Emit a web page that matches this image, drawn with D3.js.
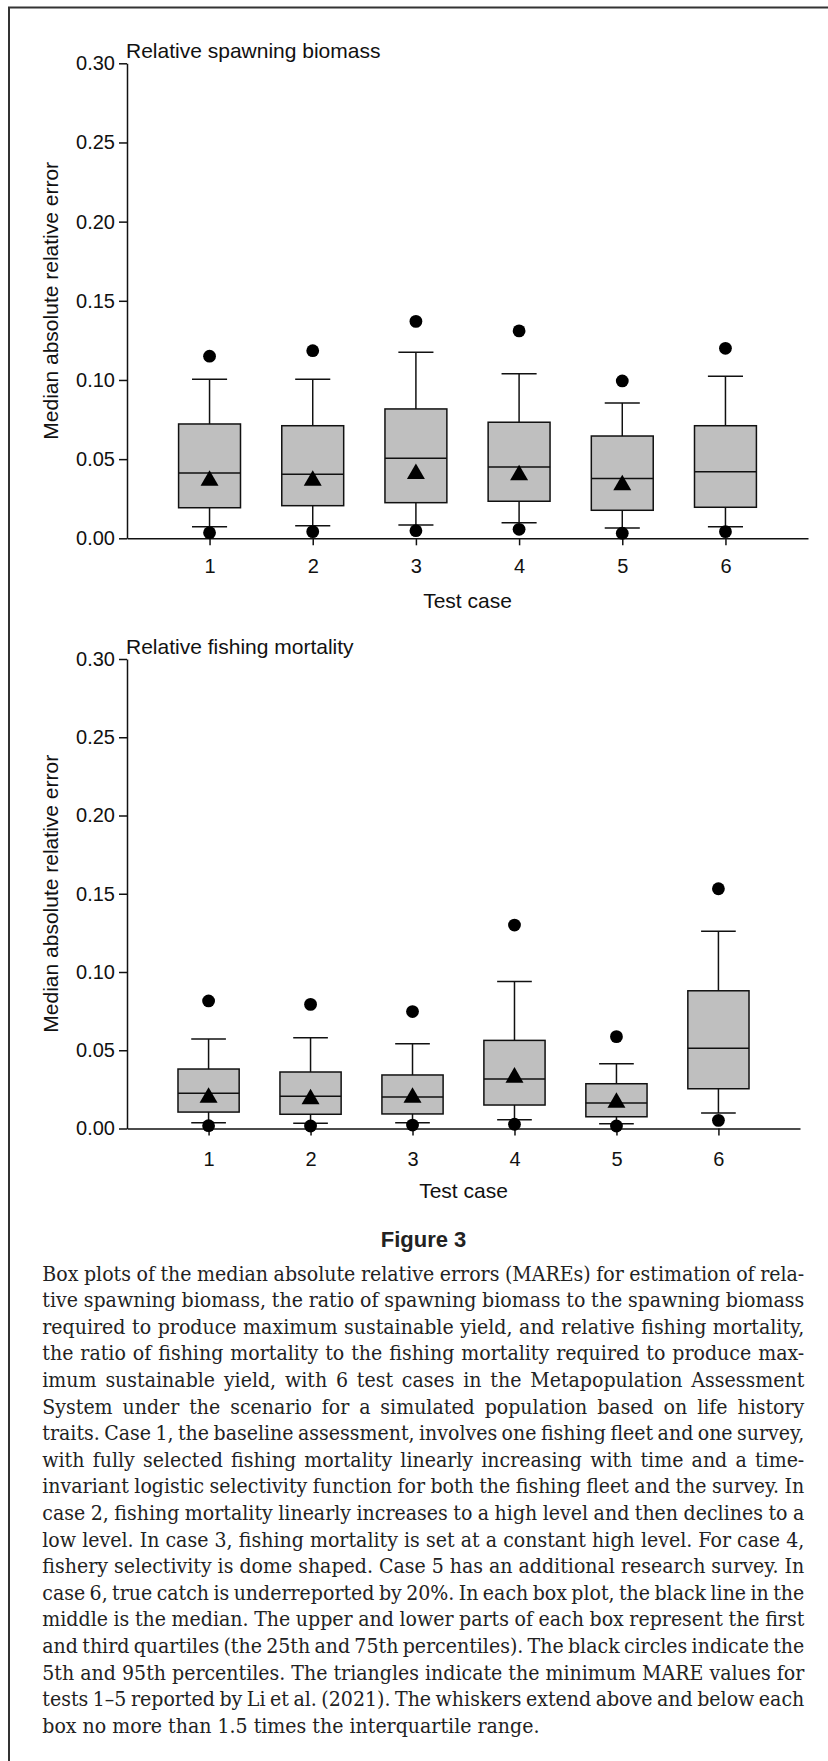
<!DOCTYPE html>
<html>
<head>
<meta charset="utf-8">
<script src="https://cdn.jsdelivr.net/npm/d3@7"></script>
<style>
  html, body { margin: 0; padding: 0; background: #fff; }
  svg { display: block; }
</style>
</head>
<body>
<svg id="fig" width="828" height="1761"></svg>
<script>
'use strict'

const cases = [1, 2, 3, 4, 5, 6]
const yTicks = [0, 0.05, 0.10, 0.15, 0.20, 0.25, 0.30]

// Relative spawning biomass
const sbP95 = [0.115, 0.1185, 0.137, 0.131, 0.0994, 0.120]
const sbHi = [0.1004, 0.1004, 0.1175, 0.104, 0.0855, 0.1023]
const sbQ3 = [0.0722, 0.0711, 0.0817, 0.0733, 0.0646, 0.0711]
const sbMed = [0.0412, 0.0404, 0.0505, 0.0450, 0.0377, 0.0421]
const sbQ1 = [0.0193, 0.0206, 0.0225, 0.0234, 0.0177, 0.0196]
const sbLo = [0.0073, 0.0080, 0.0084, 0.0099, 0.0065, 0.0073]
const sbP05 = [0.0035, 0.0042, 0.0048, 0.0057, 0.0032, 0.0042]
const sbTri = [0.0365, 0.0365, 0.0407, 0.0399, 0.0336, null]

// Relative fishing mortality
const fmP95 = [0.0815, 0.0793, 0.0747, 0.130, 0.0587, 0.1532]
const fmHi = [0.0572, 0.058, 0.0542, 0.094, 0.0414, 0.126]
const fmQ3 = [0.038, 0.0361, 0.0342, 0.0563, 0.0286, 0.088]
const fmMed = [0.0225, 0.0206, 0.0201, 0.0316, 0.0163, 0.0512]
const fmQ1 = [0.0105, 0.0091, 0.0093, 0.015, 0.0075, 0.0254]
const fmLo = [0.0037, 0.0033, 0.0037, 0.0056, 0.0031, 0.0099]
const fmP05 = [0.0018, 0.0016, 0.0022, 0.0027, 0.0016, 0.0052]
const fmTri = [0.0198, 0.0188, 0.0198, 0.0326, 0.0166, null]

const captionLines = [
  'Box plots of the median absolute relative errors (MAREs) for estimation of rela-',
  'tive spawning biomass, the ratio of spawning biomass to the spawning biomass',
  'required to produce maximum sustainable yield, and relative fishing mortality,',
  'the ratio of fishing mortality to the fishing mortality required to produce max-',
  'imum sustainable yield, with 6 test cases in the Metapopulation Assessment',
  'System under the scenario for a simulated population based on life history',
  'traits. Case 1, the baseline assessment, involves one fishing fleet and one survey,',
  'with fully selected fishing mortality linearly increasing with time and a time-',
  'invariant logistic selectivity function for both the fishing fleet and the survey. In',
  'case 2, fishing mortality linearly increases to a high level and then declines to a',
  'low level. In case 3, fishing mortality is set at a constant high level. For case 4,',
  'fishery selectivity is dome shaped. Case 5 has an additional research survey. In',
  'case 6, true catch is underreported by 20%. In each box plot, the black line in the',
  'middle is the median. The upper and lower parts of each box represent the first',
  'and third quartiles (the 25th and 75th percentiles). The black circles indicate the',
  '5th and 95th percentiles. The triangles indicate the minimum MARE values for',
  'tests 1\u20135 reported by Li et al. (2021). The whiskers extend above and below each',
  'box no more than 1.5 times the interquartile range.'
]

const sans = '"Liberation Sans", Arial, Helvetica, sans-serif'
const svg = d3.select('#fig')

// frame (left and top rules)
svg.append('path')
  .attr('d', 'M9,1761V7.5H828')
  .attr('fill', 'none')
  .attr('stroke', '#333')
  .attr('stroke-width', 2)

const panels = [
  {
    title: 'Relative spawning biomass',
    top: 63.3, bottom: 538.3, left: 127, right: 808, labelPad: 14,
    p95: sbP95, hi: sbHi, q3: sbQ3, med: sbMed, q1: sbQ1, lo: sbLo, p05: sbP05, tri: sbTri
  },
  {
    title: 'Relative fishing mortality',
    top: 659, bottom: 1128.5, left: 127, right: 800, labelPad: 16,
    p95: fmP95, hi: fmHi, q3: fmQ3, med: fmMed, q1: fmQ1, lo: fmLo, p05: fmP05, tri: fmTri
  }
]

const drawPanel = (p) => {
  const x = d3.scaleLinear().domain([0.2, 6.8]).range([p.left, p.right])
  const y = d3.scaleLinear().domain([0, 0.30]).range([p.bottom, p.top])
  const step = x(2) - x(1)
  const boxW = step * 0.6
  const capW = step * 0.34

  const g = svg.append('g')

  const yAxis = g.append('g')
    .attr('transform', `translate(${p.left},0)`)
    .call(d3.axisLeft(y).tickValues(yTicks).tickFormat(d3.format('.2f'))
      .tickSize(8).tickSizeOuter(0).tickPadding(4))
  const xAxis = g.append('g')
    .attr('transform', `translate(0,${p.bottom})`)
    .call(d3.axisBottom(x).tickValues(cases).tickFormat(d3.format('d'))
      .tickSize(7).tickSizeOuter(0).tickPadding(p.labelPad))

  ;[yAxis, xAxis].forEach((a) => {
    a.selectAll('path, line').attr('stroke', '#111').attr('stroke-width', 1.5)
    a.selectAll('text').attr('fill', '#111').style('font-family', sans).style('font-size', '20px')
  })

  g.append('text')
    .attr('x', p.left - 1)
    .attr('y', p.top - 5)
    .style('font-family', sans).style('font-size', '21px')
    .attr('fill', '#111')
    .text(p.title)

  g.append('text')
    .attr('transform', `translate(58,${(p.top + p.bottom) / 2}) rotate(-90)`)
    .attr('text-anchor', 'middle')
    .style('font-family', sans).style('font-size', '21px')
    .attr('fill', '#111')
    .text('Median absolute relative error')

  g.append('text')
    .attr('x', (p.left + p.right) / 2)
    .attr('y', p.bottom + 69.5)
    .attr('text-anchor', 'middle')
    .style('font-family', sans).style('font-size', '21px')
    .attr('fill', '#111')
    .text('Test case')

  const rows = cases.map((c, i) => ({
    c, p95: p.p95[i], hi: p.hi[i], q3: p.q3[i], med: p.med[i],
    q1: p.q1[i], lo: p.lo[i], p05: p.p05[i], tri: p.tri[i]
  }))

  const box = g.selectAll('g.box').data(rows).enter().append('g').attr('class', 'box')

  box.append('line')
    .attr('x1', (d) => x(d.c)).attr('x2', (d) => x(d.c))
    .attr('y1', (d) => y(d.lo)).attr('y2', (d) => y(d.hi))
    .attr('stroke', '#111').attr('stroke-width', 1.5)

  box.selectAll('line.cap')
    .data((d) => [{ c: d.c, v: d.lo }, { c: d.c, v: d.hi }])
    .enter().append('line').attr('class', 'cap')
    .attr('x1', (d) => x(d.c) - capW / 2).attr('x2', (d) => x(d.c) + capW / 2)
    .attr('y1', (d) => y(d.v)).attr('y2', (d) => y(d.v))
    .attr('stroke', '#111').attr('stroke-width', 1.5)

  box.append('rect')
    .attr('x', (d) => x(d.c) - boxW / 2)
    .attr('width', boxW)
    .attr('y', (d) => y(d.q3))
    .attr('height', (d) => y(d.q1) - y(d.q3))
    .attr('fill', '#bfbfbf')
    .attr('stroke', '#111').attr('stroke-width', 1.5)

  box.append('line')
    .attr('x1', (d) => x(d.c) - boxW / 2).attr('x2', (d) => x(d.c) + boxW / 2)
    .attr('y1', (d) => y(d.med)).attr('y2', (d) => y(d.med))
    .attr('stroke', '#111').attr('stroke-width', 1.5)

  const tri = d3.symbol().type(d3.symbolTriangle).size(140)
  box.filter((d) => d.tri != null).append('path')
    .attr('d', tri)
    .attr('transform', (d) => `translate(${x(d.c)},${y(d.tri)})`)
    .attr('fill', '#000')

  box.selectAll('circle')
    .data((d) => [{ c: d.c, v: d.p05 }, { c: d.c, v: d.p95 }])
    .enter().append('circle')
    .attr('cx', (d) => x(d.c)).attr('cy', (d) => y(d.v))
    .attr('r', 6.4)
    .attr('fill', '#000')
}

panels.forEach(drawPanel)

// caption
svg.append('text')
  .attr('x', 423.5)
  .attr('y', 1246.7)
  .attr('text-anchor', 'middle')
  .style('font-family', sans).style('font-size', '22px').style('font-weight', 'bold')
  .attr('fill', '#222')
  .text('Figure 3')

const capLeft = 42.3
const capWidth = 804.7 - capLeft
const cap = svg.append('g')
  .style('font-family', '"DejaVu Serif", "Liberation Serif", serif')
  .style('font-size', '19.5px')
  .attr('fill', '#222')

const capText = cap.selectAll('text').data(captionLines).enter().append('text')
  .attr('x', 0)
  .attr('y', (d, i) => 1280.7 + i * 26.6)
  .text((d) => d)

// condense the serif horizontally, then justify with word spacing
const widths = []
capText.each(function () { widths.push(this.getComputedTextLength()) })
const k = d3.mean(widths.slice(0, -1), (w) => capWidth / w)
cap.attr('transform', `translate(${capLeft},0) scale(${k},1)`)
capText.each(function (d, i) {
  if (i === captionLines.length - 1) return
  const gaps = d.split(' ').length - 1
  const extra = (capWidth / k - widths[i]) / gaps
  d3.select(this).style('word-spacing', `${extra}px`)
})
</script>
</body>
</html>
